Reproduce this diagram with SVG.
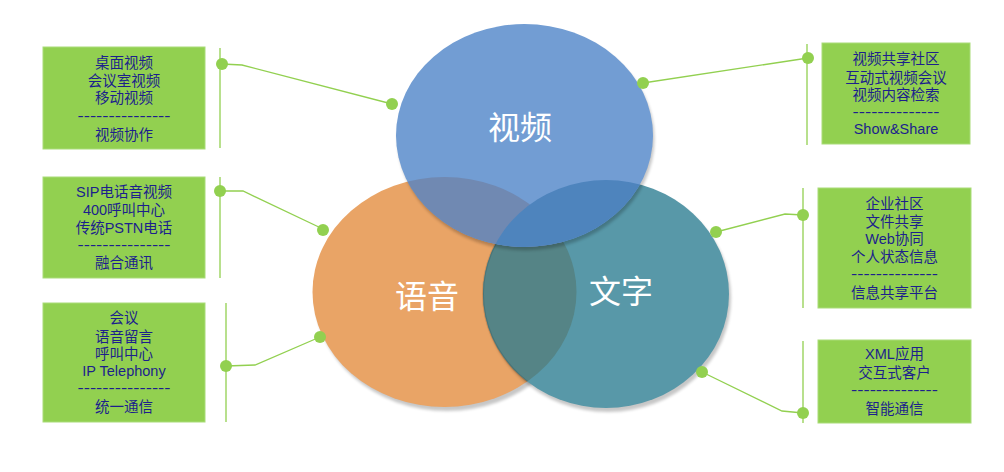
<svg xmlns="http://www.w3.org/2000/svg" width="1004" height="472" viewBox="0 0 1004 472">
<style>
.box{fill:#92d050;stroke:#a9dc78;stroke-width:1}
.t{font-family:"Liberation Sans","Noto Sans CJK SC",sans-serif;font-size:14.5px;fill:#1c1f8c;text-anchor:middle}
.big{font-family:"Noto Sans CJK SC",sans-serif;font-size:32px;fill:#ffffff;text-anchor:middle}
.ln{fill:none;stroke:#92d050;stroke-width:1.3}
.dot{fill:#92d050}
.sh{fill:#000;opacity:0.22}
</style>
<defs>
<clipPath id="cBlue"><ellipse cx="524.5" cy="135.5" rx="128.5" ry="111.5"/></clipPath>
<clipPath id="cOrange"><ellipse cx="444.5" cy="292" rx="132" ry="115"/></clipPath>
<filter id="blur" x="-10%" y="-10%" width="120%" height="120%"><feGaussianBlur stdDeviation="1.5"/></filter>
</defs>
<g id="venn">
<ellipse class="sh" cx="447" cy="296" rx="132" ry="115" filter="url(#blur)"/>
<ellipse cx="444.5" cy="292" rx="132" ry="115" fill="#e9a466"/>
<ellipse class="sh" cx="608" cy="298" rx="123" ry="114" filter="url(#blur)"/>
<ellipse cx="606" cy="294" rx="123" ry="114" fill="#5898a8"/>
<ellipse cx="606" cy="294" rx="123" ry="114" fill="#558486" clip-path="url(#cOrange)"/>
<g clip-path="url(#cOrange)"><ellipse cx="606" cy="294" rx="123" ry="114" fill="none" stroke="#000" stroke-opacity="0.12" stroke-width="2"/></g>
<ellipse class="sh" cx="526" cy="139" rx="128.5" ry="111.5" filter="url(#blur)" opacity="0.35"/>
<ellipse cx="524.5" cy="135.5" rx="128.5" ry="111.5" fill="#729dd3"/>
<ellipse cx="444.5" cy="292" rx="132" ry="115" fill="#7089b2" clip-path="url(#cBlue)"/>
<ellipse cx="606" cy="294" rx="123" ry="114" fill="#4e84bd" clip-path="url(#cBlue)"/>
</g>
<g id="labels">
<text class="big" x="520" y="139">视频</text>
<text class="big" x="427" y="308">语音</text>
<text class="big" x="621" y="303">文字</text>
</g>
<g id="connectors">
<line class="ln" x1="220" y1="48" x2="220" y2="148"/>
<polyline class="ln" points="222,64 242,65 392,104"/>
<circle class="dot" cx="222" cy="64" r="6"/><circle class="dot" cx="392" cy="104" r="6"/>
<line class="ln" x1="220" y1="177" x2="220" y2="278"/>
<polyline class="ln" points="220,191 243,191 323,229"/>
<circle class="dot" cx="220" cy="191" r="6"/><circle class="dot" cx="323" cy="230" r="6"/>
<line class="ln" x1="226" y1="303" x2="226" y2="422"/>
<polyline class="ln" points="226,366 255,365 320,337"/>
<circle class="dot" cx="226" cy="366" r="6"/><circle class="dot" cx="320" cy="337" r="6"/>
<line class="ln" x1="807" y1="44" x2="807" y2="145"/>
<polyline class="ln" points="808,58 643,83"/>
<circle class="dot" cx="808" cy="58" r="6"/><circle class="dot" cx="643" cy="83" r="6"/>
<line class="ln" x1="803" y1="188" x2="803" y2="308"/>
<polyline class="ln" points="803,215 785,214 716,232"/>
<circle class="dot" cx="803" cy="215" r="6"/><circle class="dot" cx="716" cy="232" r="6"/>
<line class="ln" x1="803" y1="341" x2="803" y2="423"/>
<polyline class="ln" points="803,413 782,411 702,372"/>
<circle class="dot" cx="803" cy="413" r="6"/><circle class="dot" cx="702" cy="372" r="6"/>
</g>
<g id="box-video-left">
<rect class="box" x="43" y="47" width="162" height="102"/>
<text class="t" x="124" y="68">桌面视频</text>
<text class="t" x="124" y="86">会议室视频</text>
<text class="t" x="124" y="103">移动视频</text>
<text class="t" x="124" y="121" textLength="93" lengthAdjust="spacingAndGlyphs">---------------</text>
<text class="t" x="124" y="140">视频协作</text>
</g>
<g id="box-voice-1">
<rect class="box" x="43" y="177" width="162" height="101"/>
<text class="t" x="124" y="197">SIP电话音视频</text>
<text class="t" x="124" y="215">400呼叫中心</text>
<text class="t" x="124" y="233">传统PSTN电话</text>
<text class="t" x="124" y="250" textLength="93" lengthAdjust="spacingAndGlyphs">---------------</text>
<text class="t" x="124" y="268">融合通讯</text>
</g>
<g id="box-voice-2">
<rect class="box" x="43" y="303" width="162" height="119"/>
<text class="t" x="124" y="323">会议</text>
<text class="t" x="124" y="342">语音留言</text>
<text class="t" x="124" y="359">呼叫中心</text>
<text class="t" x="124" y="376">IP Telephony</text>
<text class="t" x="124" y="393" textLength="93" lengthAdjust="spacingAndGlyphs">---------------</text>
<text class="t" x="124" y="412">统一通信</text>
</g>
<g id="box-video-right">
<rect class="box" x="822" y="43" width="148" height="101"/>
<text class="t" x="896" y="64">视频共享社区</text>
<text class="t" x="896" y="83">互动式视频会议</text>
<text class="t" x="896" y="100">视频内容检索</text>
<text class="t" x="896" y="117" textLength="87" lengthAdjust="spacingAndGlyphs">--------------</text>
<text class="t" x="896" y="134">Show&amp;Share</text>
</g>
<g id="box-text-1">
<rect class="box" x="818" y="188" width="153" height="120"/>
<text class="t" x="894.5" y="209">企业社区</text>
<text class="t" x="894.5" y="227">文件共享</text>
<text class="t" x="894.5" y="244">Web协同</text>
<text class="t" x="894.5" y="262">个人状态信息</text>
<text class="t" x="894.5" y="279" textLength="87" lengthAdjust="spacingAndGlyphs">--------------</text>
<text class="t" x="894.5" y="298">信息共享平台</text>
</g>
<g id="box-text-2">
<rect class="box" x="818" y="340" width="153" height="83"/>
<text class="t" x="894.5" y="359">XML应用</text>
<text class="t" x="894.5" y="378">交互式客户</text>
<text class="t" x="894.5" y="395" textLength="87" lengthAdjust="spacingAndGlyphs">--------------</text>
<text class="t" x="894.5" y="414">智能通信</text>
</g>
</svg>
